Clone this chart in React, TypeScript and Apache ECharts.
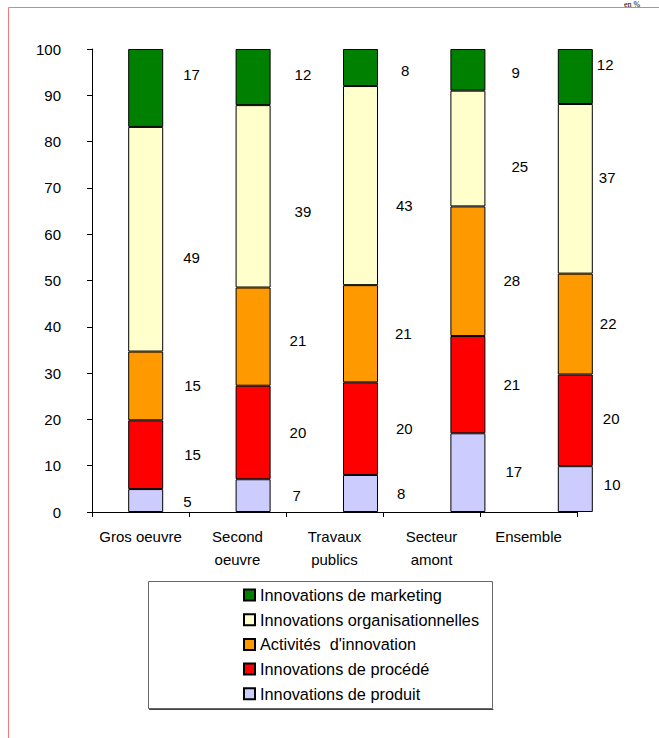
import { useEffect, useRef } from "react";
import * as echarts from "echarts";

const categories = ["Gros oeuvre", "Second\noeuvre", "Travaux\npublics", "Secteur\namont", "Ensemble"];

// values as printed (in %), stacked bottom to top
const produit = [5, 7, 8, 17, 10];
const procede = [15, 20, 20, 21, 20];
const activites = [15, 21, 21, 28, 22];
const organisation = [49, 39, 43, 25, 37];
const marketing = [17, 12, 8, 9, 12];

const seriesNames = [
  "Innovations de produit",
  "Innovations de procédé",
  "Activités  d'innovation",
  "Innovations organisationnelles",
  "Innovations de marketing",
];
const legendOrder = [
  "Innovations de marketing",
  "Innovations organisationnelles",
  "Activités  d'innovation",
  "Innovations de procédé",
  "Innovations de produit",
];

// styling
const colors = ["#CCCCFF", "#FF0000", "#FF9900", "#FFFFCC", "#008000"];
const labelOffsets = [
  [[0, 1], [2, 0], [-1, 0], [0, -1], [-9, -5]],
  [[1, 0], [-1, 0], [-2, 0], [-2, 0], [-10, -2]],
  [[1, 0], [-1, 4], [-3, 0], [-2, 9], [-13, -1]],
  [[0, 18], [4, 15], [-2, 20], [6, 18], [-14, -11]],
  [[0, -13], [4, -3], [3, 3], [6, 3], [-16, -12]],
];

const FONT = "'Liberation Sans', Arial, sans-serif";

export default function App() {
  const ref = useRef<HTMLDivElement>(null);
  useEffect(() => {
    if (!ref.current) return;
    const chart = echarts.init(ref.current, undefined, { renderer: "svg" });
    const raw = [produit, procede, activites, organisation, marketing];
    const totals = categories.map((_, i) => raw.reduce((s, arr) => s + arr[i], 0));

    const series = raw.map((arr, si) => ({
      name: seriesNames[si],
      type: "bar",
      stack: "total",
      xAxisIndex: 1,
      yAxisIndex: 1,
      barWidth: 35,
      itemStyle: { color: colors[si], borderColor: "#000", borderWidth: 1 },
      label: {
        show: true,
        position: "right",
        distance: 20,
        fontFamily: FONT,
        fontSize: 15,
        color: "#000",
        formatter: (p: any) => String(arr[p.dataIndex]),
      },
      data: arr.map((v, i) => ({
        value: (v / totals[i]) * 100,
        label: { offset: labelOffsets[si][i] },
      })),
    }));

    chart.setOption({
      animation: false,
      backgroundColor: "#fff",
      grid: [
        { left: 92, right: 82, top: 49, bottom: 226 },
        { left: 92, right: 30, top: 49, bottom: 226 },
      ],
      xAxis: [
        {
          type: "category",
          gridIndex: 0,
          data: categories,
          boundaryGap: true,
          axisLine: { show: true, lineStyle: { color: "#000", width: 1 } },
          axisTick: { show: true, length: 5, lineStyle: { color: "#000" } },
          axisLabel: {
            color: "#000",
            fontFamily: FONT,
            fontSize: 15,
            lineHeight: 23,
            margin: 13,
            interval: 0,
          },
        },
        {
          type: "category",
          gridIndex: 1,
          data: categories,
          show: false,
        },
      ],
      yAxis: [
        {
          type: "value",
          gridIndex: 0,
          min: 0,
          max: 100,
          interval: 10,
          axisLine: { show: true, lineStyle: { color: "#000", width: 1 } },
          axisTick: { show: true, length: 5, lineStyle: { color: "#000" } },
          splitLine: { show: false },
          axisLabel: { color: "#000", fontFamily: FONT, fontSize: 15, margin: 31 },
        },
        {
          type: "value",
          gridIndex: 1,
          min: 0,
          max: 100,
          show: false,
          splitLine: { show: false },
        },
      ],
      legend: {
        data: legendOrder,
        orient: "vertical",
        left: 243,
        top: 587,
        padding: 0,
        itemWidth: 11,
        itemHeight: 11,
        itemGap: 8.7,
        icon: "rect",
        textStyle: { color: "#000", fontFamily: FONT, fontSize: 16.3, lineHeight: 16 },
      },
      graphic: [
        {
          type: "rect",
          shape: { x: 8.5, y: 7.5, width: 700, height: 800 },
          style: { fill: "none", stroke: "#F07878", lineWidth: 1 },
          silent: true,
        },
        {
          type: "rect",
          shape: { x: 148.5, y: 581.5, width: 344, height: 127 },
          style: { fill: "none", stroke: "#666", lineWidth: 1 },
          silent: true,
          z: -1,
        },
        {
          type: "line",
          shape: { x1: 149, y1: 709.5, x2: 493.5, y2: 709.5 },
          style: { stroke: "#444", lineWidth: 1 },
          silent: true,
        },
        {
          type: "text",
          x: 624,
          y: 0,
          style: {
            text: "en %",
            fill: "#000",
            font: "8px 'Liberation Serif', 'Times New Roman', serif",
            verticalAlign: "top",
          },
          silent: true,
        },
      ],
      series,
    });
    return () => chart.dispose();
  }, []);
  return (
    <div
      ref={ref}
      style={{ position: "absolute", left: 0, top: 0, width: 659, height: 738 }}
    />
  );
}
